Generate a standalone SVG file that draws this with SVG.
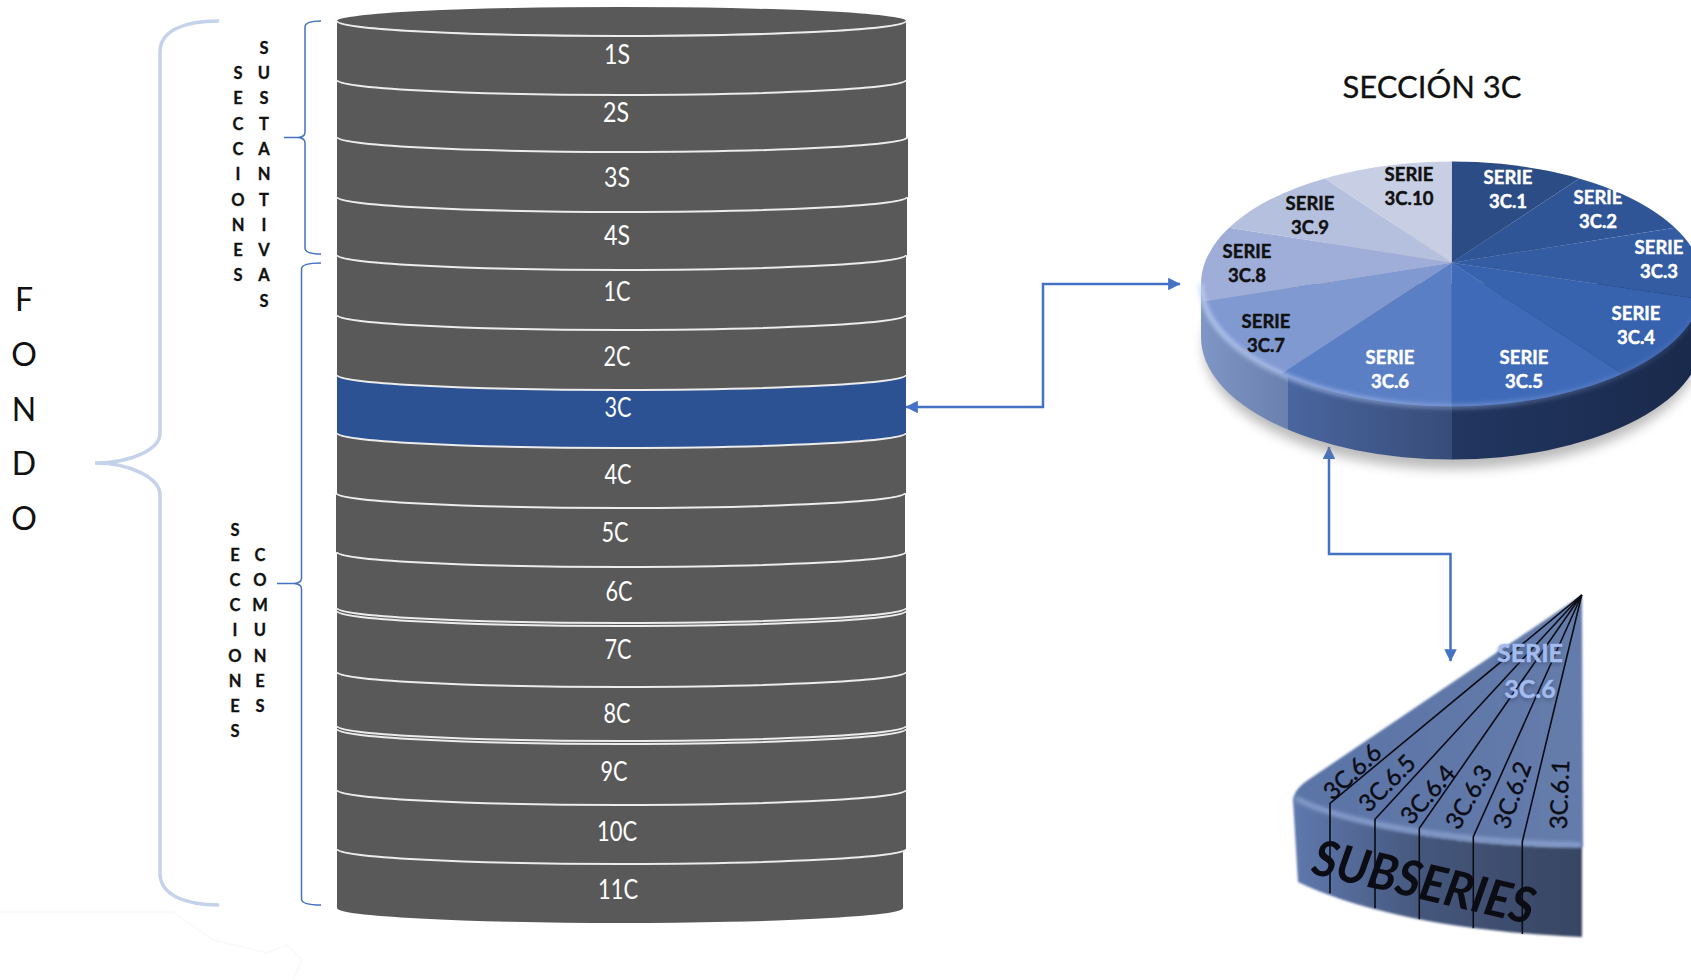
<svg xmlns="http://www.w3.org/2000/svg" width="1691" height="980" viewBox="0 0 1691 980">
<style>
text{font-family:Lato,"Liberation Sans",sans-serif}
.band{fill:#595959;stroke:none}
.rim{fill:none;stroke:#ececec;stroke-width:2}
.blbl{fill:#fff;font-size:26px;text-anchor:middle}
.ser{font-size:18.5px;font-weight:700;text-anchor:middle;stroke-width:.45}
.w{fill:#fff;stroke:#fff}.k{fill:#111;stroke:#111}
.vert{font-size:16.5px;font-weight:700;fill:#111;text-anchor:middle;stroke:#111;stroke-width:.3}
.fondo{font-size:32px;fill:#111;text-anchor:middle}
.sub{font-size:24px;fill:#0c0c14;text-anchor:middle;stroke:#0c0c14;stroke-width:.4}
.div{stroke:#0c0c14;stroke-width:1.6;fill:none}
.conn{fill:none;stroke:#4472c4;stroke-width:2.5}
.brace{fill:none;stroke:#4472c4;stroke-width:1.5}
</style>
<defs>
<marker id="arr" viewBox="0 0 10 10" refX="9.5" refY="5" markerWidth="5" markerHeight="5" orient="auto-start-reverse"><path d="M0 0L10 5L0 10Z" fill="#4472c4"/></marker>
<filter id="b1" x="-5%" y="-5%" width="110%" height="110%"><feGaussianBlur stdDeviation="0.8"/></filter>
<filter id="b2" x="-10%" y="-10%" width="120%" height="120%"><feGaussianBlur stdDeviation="2"/></filter>
<filter id="b8" x="-10%" y="-20%" width="120%" height="140%"><feGaussianBlur stdDeviation="6"/></filter>
<clipPath id="pieTop"><ellipse cx="1452" cy="284" rx="251" ry="122.5"/></clipPath>
<clipPath id="pieSide"><path d="M1201 284V337A251 122.5 0 0 0 1703 337V284Z"/></clipPath>
<linearGradient id="s1" x1="0" x2="1" y1="0" y2="0"><stop offset="0" stop-color="#7f96c6"/><stop offset="1" stop-color="#6a80ad"/></linearGradient>
<linearGradient id="s2" x1="0" x2="1" y1="0" y2="0"><stop offset="0" stop-color="#4a66a0"/><stop offset="1" stop-color="#374c78"/></linearGradient>
<linearGradient id="s3" x1="0" x2="1" y1="0" y2="0"><stop offset="0" stop-color="#223660"/><stop offset="1" stop-color="#19294b"/></linearGradient>
<linearGradient id="rimG" x1="0" x2="1" y1="0" y2="0"><stop offset="0" stop-color="#c5d6f8" stop-opacity=".75"/><stop offset=".45" stop-color="#a9c0ee" stop-opacity=".45"/><stop offset="1" stop-color="#8aa4d8" stop-opacity=".1"/></linearGradient>
<linearGradient id="wSide" x1="0" x2="1" y1="0" y2="0"><stop offset="0" stop-color="#5f79ae"/><stop offset=".45" stop-color="#45577c"/><stop offset="1" stop-color="#384562"/></linearGradient>
<linearGradient id="wTop" x1="0" x2="1" y1="0" y2="0"><stop offset="0" stop-color="#5a74a6"/><stop offset="1" stop-color="#657cab"/></linearGradient>
</defs>

<g id="artefact"><path d="M0 912H173L213 940L267 953L287 945L302 960L293 980" fill="none" stroke="#f9f9f9" stroke-width="1.5"/></g>

<g id="cylinder">
<ellipse id="top-cap" cx="621.5" cy="21" rx="284.5" ry="14" fill="#595959"/>
<g id="s1s"><path class="band" d="M337 21A284.500 15 0 0 0 906 21V80A284.500 15 0 0 1 337 80Z"/><path class="rim" d="M337 21A284.500 15 0 0 0 906 21"/><text class="blbl" x="617" y="64" textLength="26" lengthAdjust="spacingAndGlyphs">1S</text></g>
<g id="s2s"><path class="band" d="M337 80A284.500 15 0 0 0 906 80V137A284.500 15 0 0 1 337 137Z"/><path class="rim" d="M337 80A284.500 15 0 0 0 906 80"/><text class="blbl" x="616" y="122" textLength="26" lengthAdjust="spacingAndGlyphs">2S</text></g>
<g id="s3s"><path class="band" d="M337 137A285 15 0 0 0 908 137V197A285 15 0 0 1 337 197Z"/><path class="rim" d="M337 137A285 15 0 0 0 908 137"/><text class="blbl" x="617" y="187" textLength="26" lengthAdjust="spacingAndGlyphs">3S</text></g>
<g id="s4s"><path class="band" d="M337 197A285 15 0 0 0 907 197V255A285 15 0 0 1 337 255Z"/><path class="rim" d="M337 197A285 15 0 0 0 907 197"/><text class="blbl" x="617" y="245" textLength="26" lengthAdjust="spacingAndGlyphs">4S</text></g>
<g id="s1c"><path class="band" d="M337 255A284.500 15 0 0 0 906 255V315A284.500 15 0 0 1 337 315Z"/><path class="rim" d="M337 255A284.500 15 0 0 0 906 255"/><text class="blbl" x="617" y="301" textLength="27" lengthAdjust="spacingAndGlyphs">1C</text></g>
<g id="s2c"><path class="band" d="M337 315A284.500 15 0 0 0 906 315V375A284.500 15 0 0 1 337 375Z"/><path class="rim" d="M337 315A284.500 15 0 0 0 906 315"/><text class="blbl" x="617" y="366" textLength="27" lengthAdjust="spacingAndGlyphs">2C</text></g>
<g id="s3c"><path d="M337 375A284.500 15 0 0 0 906 375V433A284.500 15 0 0 1 337 433Z" fill="#2c5293"/><path class="rim" d="M337 375A284.500 15 0 0 0 906 375"/><text class="blbl" x="618" y="417" textLength="27" lengthAdjust="spacingAndGlyphs">3C</text></g>
<g id="s4c"><path class="band" d="M337 433A284.500 15 0 0 0 906 433V493A284.500 15 0 0 1 337 493Z"/><path class="rim" d="M337 433A284.500 15 0 0 0 906 433"/><text class="blbl" x="618" y="484" textLength="27" lengthAdjust="spacingAndGlyphs">4C</text></g>
<g id="s5c"><path class="band" d="M336 493A284.500 15 0 0 0 905 493V552A284.500 15 0 0 1 336 552Z"/><path class="rim" d="M336 493A284.500 15 0 0 0 905 493"/><text class="blbl" x="615" y="542" textLength="27" lengthAdjust="spacingAndGlyphs">5C</text></g>
<g id="s6c"><path class="band" d="M337 552A284.500 15 0 0 0 906 552V611A284.500 15 0 0 1 337 611Z"/><path class="rim" d="M337 552A284.500 15 0 0 0 906 552"/><text class="blbl" x="619" y="601" textLength="27" lengthAdjust="spacingAndGlyphs">6C</text></g>
<g id="s7c"><path class="band" d="M337 611A284.500 15 0 0 0 906 611V672A284.500 15 0 0 1 337 672Z"/><path class="rim" d="M337 611A284.500 15 0 0 0 906 611"/><path class="rim" d="M337 608A284.500 15 0 0 0 906 608" stroke-width="1"/><text class="blbl" x="618" y="659" textLength="27" lengthAdjust="spacingAndGlyphs">7C</text></g>
<g id="s8c"><path class="band" d="M337 672A284.500 15 0 0 0 906 672V729A284.500 15 0 0 1 337 729Z"/><path class="rim" d="M337 672A284.500 15 0 0 0 906 672"/><text class="blbl" x="617" y="723" textLength="27" lengthAdjust="spacingAndGlyphs">8C</text></g>
<g id="s9c"><path class="band" d="M337 729A284.500 15 0 0 0 906 729V790A284.500 15 0 0 1 337 790Z"/><path class="rim" d="M337 729A284.500 15 0 0 0 906 729"/><path class="rim" d="M337 726A284.500 15 0 0 0 906 726" stroke-width="1"/><text class="blbl" x="614" y="781" textLength="27" lengthAdjust="spacingAndGlyphs">9C</text></g>
<g id="s10c"><path class="band" d="M337 790A284.500 15 0 0 0 906 790V849A284.500 15 0 0 1 337 849Z"/><path class="rim" d="M337 790A284.500 15 0 0 0 906 790"/><text class="blbl" x="617" y="841" textLength="40" lengthAdjust="spacingAndGlyphs">10C</text></g>
<g id="s11c"><path class="band" d="M337 849A283 15 0 0 0 903 849V908A283 15 0 0 1 337 908Z"/><path class="rim" d="M337 849A284.500 15 0 0 0 906 849"/><text class="blbl" x="618" y="899" textLength="40" lengthAdjust="spacingAndGlyphs">11C</text></g>
</g>

<g id="fondo">
<path d="M219 21C185 21 160 30 160 52V433C160 450 130 463 95 463C130 463 160 478 160 495V873C160 895 185 905 219 905" fill="none" stroke="#c4d3ea" stroke-width="3.5"/>
<text class="fondo"><tspan x="24" y="311">F</tspan><tspan x="24" y="366">O</tspan><tspan x="24" y="421">N</tspan><tspan x="24" y="475">D</tspan><tspan x="24" y="530">O</tspan></text>
</g>

<g id="secciones-sustantivas">
<path class="brace" d="M321 21C310 21 305 23 305 27V132Q305 137 298 137.500L284 137.500L298 137.500Q305 138 305 143V248C305 252 310 254 321 254"/>
<text class="vert"><tspan x="238" y="79">S</tspan><tspan x="238" y="104">E</tspan><tspan x="238" y="130">C</tspan><tspan x="238" y="155">C</tspan><tspan x="238" y="180">I</tspan><tspan x="238" y="206">O</tspan><tspan x="238" y="231">N</tspan><tspan x="238" y="256">E</tspan><tspan x="238" y="281">S</tspan></text>
<text class="vert"><tspan x="264" y="54">S</tspan><tspan x="264" y="79">U</tspan><tspan x="264" y="104">S</tspan><tspan x="264" y="130">T</tspan><tspan x="264" y="155">A</tspan><tspan x="264" y="180">N</tspan><tspan x="264" y="206">T</tspan><tspan x="264" y="231">I</tspan><tspan x="264" y="256">V</tspan><tspan x="264" y="281">A</tspan><tspan x="264" y="307">S</tspan></text>
</g>

<g id="secciones-comunes">
<path class="brace" d="M321 263C310 263 301.500 264 301.500 269V578Q301.500 583 294 583.500L277 583.500L294 583.500Q301.500 584 301.500 589V899C301.500 904 310 905 321 905"/>
<text class="vert"><tspan x="235" y="536">S</tspan><tspan x="235" y="561">E</tspan><tspan x="235" y="586">C</tspan><tspan x="235" y="611">C</tspan><tspan x="235" y="636">I</tspan><tspan x="235" y="662">O</tspan><tspan x="235" y="687">N</tspan><tspan x="235" y="712">E</tspan><tspan x="235" y="737">S</tspan></text>
<text class="vert"><tspan x="260" y="561">C</tspan><tspan x="260" y="586">O</tspan><tspan x="260" y="611">M</tspan><tspan x="260" y="636">U</tspan><tspan x="260" y="662">N</tspan><tspan x="260" y="687">E</tspan><tspan x="260" y="712">S</tspan></text>
</g>

<g id="connectors">
<path class="conn" d="M906 407H1043V284H1180" marker-start="url(#arr)" marker-end="url(#arr)"/>
<path class="conn" d="M1329 447V554H1450.500V661" marker-start="url(#arr)" marker-end="url(#arr)"/>
</g>

<g id="title"><text x="1432" y="98" font-size="31px" fill="#111" stroke="#111" stroke-width=".3" text-anchor="middle">SECCIÓN 3C</text></g>

<g id="pie">
<ellipse cx="1452" cy="347" rx="248" ry="122" fill="#777" opacity=".5" filter="url(#b8)"/>
<g clip-path="url(#pieSide)">
<rect x="1201" y="284" width="87" height="190" fill="url(#s1)"/>
<rect x="1288" y="284" width="164" height="190" fill="url(#s2)"/>
<rect x="1452" y="284" width="251" height="190" fill="url(#s3)"/>
</g>
<g clip-path="url(#pieTop)">
<path d="M1451.700 262.700L1451.700 -40L1827 15Z" fill="#2b4c84"/>
<path d="M1451.700 262.700L1827 15L2115 159Z" fill="#2f5597"/>
<path d="M1451.700 262.700L2115 159L2169 368Z" fill="#335ca3"/>
<path d="M1451.700 262.700L2169 368L1935 578Z" fill="#3762ae"/>
<path d="M1451.700 262.700L1935 578L1452 695Z" fill="#3f6ab8"/>
<path d="M1451.700 262.700L1452 695L960 584Z" fill="#5b7fc5"/>
<path d="M1451.700 262.700L960 584L705 380Z" fill="#8099d1"/>
<path d="M1451.700 262.700L705 380L786 158Z" fill="#9fadd9"/>
<path d="M1451.700 262.700L786 158L1077 14Z" fill="#b5bfde"/>
<path d="M1451.700 262.700L1077 14L1451.700 -40Z" fill="#c8cfe5"/>
</g>
<path d="M1201 284A251 122.500 0 0 0 1703 284" fill="none" stroke="url(#rimG)" stroke-width="5" filter="url(#b2)"/>
<g id="serie-3c-10"><text class="ser k"><tspan x="1409" y="181">SERIE</tspan><tspan x="1409" y="205">3C.10</tspan></text></g>
<g id="serie-3c-1"><text class="ser w"><tspan x="1508" y="184">SERIE</tspan><tspan x="1508" y="208">3C.1</tspan></text></g>
<g id="serie-3c-2"><text class="ser w"><tspan x="1598" y="204">SERIE</tspan><tspan x="1598" y="228">3C.2</tspan></text></g>
<g id="serie-3c-3"><text class="ser w"><tspan x="1659" y="254">SERIE</tspan><tspan x="1659" y="278">3C.3</tspan></text></g>
<g id="serie-3c-4"><text class="ser w"><tspan x="1636" y="320">SERIE</tspan><tspan x="1636" y="344">3C.4</tspan></text></g>
<g id="serie-3c-5"><text class="ser w"><tspan x="1524" y="364">SERIE</tspan><tspan x="1524" y="388">3C.5</tspan></text></g>
<g id="serie-3c-6"><text class="ser w"><tspan x="1390" y="364">SERIE</tspan><tspan x="1390" y="388">3C.6</tspan></text></g>
<g id="serie-3c-7"><text class="ser k"><tspan x="1266" y="328">SERIE</tspan><tspan x="1266" y="352">3C.7</tspan></text></g>
<g id="serie-3c-8"><text class="ser k"><tspan x="1247" y="258">SERIE</tspan><tspan x="1247" y="282">3C.8</tspan></text></g>
<g id="serie-3c-9"><text class="ser k"><tspan x="1310" y="210">SERIE</tspan><tspan x="1310" y="234">3C.9</tspan></text></g>
</g>

<g id="subseries">
<g filter="url(#b1)">
<path d="M1582 595L1308 780Q1293 790 1293 802C1340 825 1450 847 1583 847Z" fill="url(#wTop)"/>
<path d="M1293 800L1298 882C1360 912 1460 932 1582 937V847C1450 847 1340 825 1293 800Z" fill="url(#wSide)"/>
</g>
<path d="M1295 798C1340 822 1450 842 1581 845" fill="none" stroke="#93a9d6" stroke-width="4" filter="url(#b2)"/>
<path class="div" d="M1581.700 595L1330 803.300V893.300"/>
<path class="div" d="M1581.700 595L1375 819.300V908.300"/>
<path class="div" d="M1581.700 595L1419.300 828.300V919.300"/>
<path class="div" d="M1581.700 595L1473.300 836.700V928.300"/>
<path class="div" d="M1581.700 595L1522.300 841.700V934"/>
<g font-weight="700" font-size="25px" text-anchor="middle">
<text fill="#2d3b5c" opacity=".6" filter="url(#b2)"><tspan x="1530" y="664">SERIE</tspan><tspan x="1530" y="700">3C.6</tspan></text>
<text fill="#a3bbee" stroke="#a3bbee" stroke-width=".5"><tspan x="1530" y="662">SERIE</tspan><tspan x="1530" y="698">3C.6</tspan></text>
</g>
<text class="sub" transform="translate(1358 778) rotate(-43)">3C.6.6</text>
<text class="sub" transform="translate(1393 789) rotate(-45)">3C.6.5</text>
<text class="sub" transform="translate(1434 800) rotate(-49)">3C.6.4</text>
<text class="sub" transform="translate(1476 801) rotate(-60)">3C.6.3</text>
<text class="sub" transform="translate(1520 798) rotate(-70)">3C.6.2</text>
<text class="sub" transform="translate(1568 795) rotate(-88)">3C.6.1</text>
<text id="subseries-label" transform="translate(1420 899) rotate(13)" font-size="50px" font-style="italic" font-weight="700" fill="#0c0c14" text-anchor="middle" textLength="226" lengthAdjust="spacingAndGlyphs">SUBSERIES</text>
</g>
</svg>
